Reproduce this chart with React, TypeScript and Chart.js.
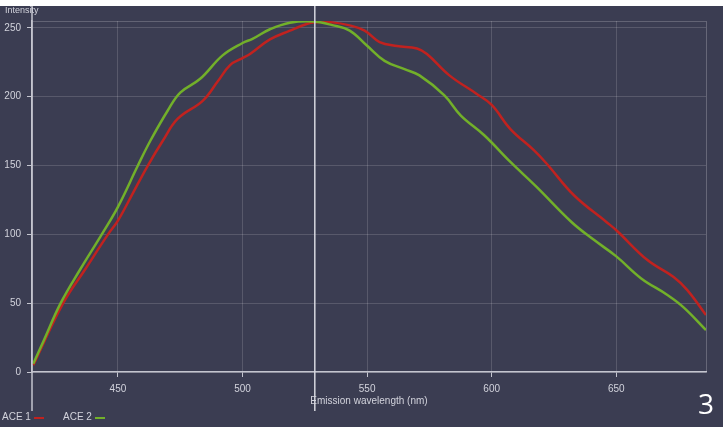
import React, { useEffect, useRef } from "react";
import { Chart, registerables } from "chart.js";

Chart.register(...registerables);

// ---- data ----
const ace1Wavelengths = [416, 428, 437, 446, 450, 456, 462, 468, 474, 484, 490, 495, 500, 503, 511, 519, 526, 529, 536, 543, 549, 555, 562, 570, 574, 583, 594, 600, 607.5, 617, 622, 633, 646, 650, 662.5, 673, 678.5, 686];
const ace1Intensity = [5, 50, 75, 100, 110, 130, 150, 168, 184, 197, 211, 223, 228, 231, 241.6, 248, 253, 254, 254, 251.8, 248, 239.7, 236.8, 235, 231, 215.5, 202, 194, 176.5, 161, 151.5, 128.4, 109, 103, 81.3, 69, 59.5, 41.4];
const ace2Wavelengths = [416, 420, 427, 435, 443.5, 450, 458, 463, 470, 475, 483, 492, 500, 504, 511, 519, 528.5, 536, 543, 550, 557, 565, 571, 581, 587.5, 597, 607.5, 618, 632, 641, 650, 660, 670.5, 677, 686];
const ace2Intensity = [6, 22, 50, 75, 100, 120, 150, 168, 190, 203, 213, 230, 239, 242, 249, 253.8, 254.7, 252, 248, 237, 226, 220, 215.5, 201, 186.5, 172, 152.6, 134.5, 109, 96, 84, 68, 56, 47, 30.5];

const xTicks = [450, 500, 550, 600, 650];
const yTicks = [0, 50, 100, 150, 200, 250];
const xMin = 415.5;
const xMax = 686;
const yMin = 0;
const yMax = 255;
const cursorWavelength = 529;

const seriesNames = ["ACE 1", "ACE 2"];
const seriesColors = ["#c1221f", "#72b02a"];

const BG = "#3b3d52";
const LABEL = "#d2d3dc";

export default function App() {
  const ref = useRef<HTMLCanvasElement | null>(null);

  useEffect(() => {
    const canvas = ref.current;
    if (!canvas) return;

    const bgPlugin = {
      id: "bg",
      beforeDraw(chart: any) {
        const { ctx, width, height } = chart;
        ctx.save();
        ctx.fillStyle = "#ffffff";
        ctx.fillRect(0, 0, width, height);
        ctx.fillStyle = BG;
        ctx.fillRect(0, 6, width, 421);
        ctx.restore();
      },
      afterDraw(chart: any) {
        const { ctx, chartArea } = chart;
        const xs = chart.scales.x;
        ctx.save();
        ctx.strokeStyle = "#c4c5cf";
        ctx.lineWidth = 1.5;
        ctx.beginPath();
        ctx.moveTo(chartArea.left, 6);
        ctx.lineTo(chartArea.left, 411);
        ctx.stroke();
        const cx = xs.getPixelForValue(cursorWavelength);
        ctx.strokeStyle = "#d6d7e0";
        ctx.beginPath();
        ctx.moveTo(cx, 6);
        ctx.lineTo(cx, 411);
        ctx.stroke();
        ctx.restore();
      },
    };

    const chart = new Chart(canvas, {
      type: "line",
      data: {
        datasets: [
          {
            label: seriesNames[0],
            data: ace1Wavelengths.map((x, i) => ({ x, y: ace1Intensity[i] })),
            borderColor: seriesColors[0],
            backgroundColor: seriesColors[0],
            borderWidth: 2.5,
            pointRadius: 0,
            tension: 0.4,
            order: 1,
          },
          {
            label: seriesNames[1],
            data: ace2Wavelengths.map((x, i) => ({ x, y: ace2Intensity[i] })),
            borderColor: seriesColors[1],
            backgroundColor: seriesColors[1],
            borderWidth: 2.5,
            pointRadius: 0,
            tension: 0.4,
            order: 0,
          },
        ],
      },
      options: {
        responsive: false,
        animation: false,
        devicePixelRatio: 1,
        layout: { padding: { left: 0, top: 21, right: 17, bottom: 0 } },
        plugins: {
          legend: { display: false },
          tooltip: { enabled: false },
        },
        scales: {
          x: {
            type: "linear",
            min: xMin,
            max: xMax,
            afterBuildTicks: (axis: any) => {
              axis.ticks = [...xTicks, xMax].map((v) => ({ value: v }));
            },
            afterFit: (scale: any) => {
              scale.height = 59;
            },
            ticks: {
              color: LABEL,
              font: { family: "Liberation Sans, Arial, sans-serif", size: 10 },
              padding: 6,
              maxRotation: 0,
              autoSkip: false,
              callback: (v: any) => (v === xMax ? "" : String(v)),
            },
            grid: {
              color: (c: any) => (c.tick && c.tick.value === xMax ? "rgba(255,255,255,0.22)" : "rgba(255,255,255,0.15)"),
              tickColor: (c: any) => (c.tick && c.tick.value === xMax ? "rgba(0,0,0,0)" : "#c4c5cf"),
              tickLength: 5,
              lineWidth: 1,
            },
            border: { display: true, color: "#c4c5cf", width: 1.5 },
            title: {
              display: true,
              text: "Emission wavelength (nm)",
              color: LABEL,
              font: { family: "Liberation Sans, Arial, sans-serif", size: 10 },
              padding: { top: 0, bottom: 24 },
            },
          },
          y: {
            type: "linear",
            min: yMin,
            max: yMax,
            afterBuildTicks: (axis: any) => {
              axis.ticks = [...yTicks, yMax].map((v) => ({ value: v }));
            },
            afterFit: (scale: any) => {
              scale.width = 32;
            },
            ticks: {
              color: LABEL,
              font: { family: "Liberation Sans, Arial, sans-serif", size: 10 },
              padding: 6,
              autoSkip: false,
              callback: (v: any) => (v === yMax ? "" : String(v)),
            },
            grid: {
              color: (c: any) => (c.tick && c.tick.value === yMax ? "rgba(255,255,255,0.2)" : "rgba(255,255,255,0.15)"),
              tickColor: (c: any) => (c.tick && c.tick.value === yMax ? "rgba(0,0,0,0)" : "#c4c5cf"),
              tickLength: 5,
              lineWidth: 1,
            },
            border: { display: true, color: "#c4c5cf", width: 1.5 },
          },
        },
      },
      plugins: [bgPlugin],
    });

    return () => chart.destroy();
  }, []);

  const textStyle: React.CSSProperties = {
    position: "absolute",
    color: LABEL,
    fontFamily: "Liberation Sans, Arial, sans-serif",
    fontSize: 10,
    lineHeight: "12px",
    whiteSpace: "nowrap",
  };

  return (
    <div style={{ position: "absolute", left: 0, top: 0, width: 723, height: 431 }}>
      <canvas ref={ref} width={723} height={431} style={{ display: "block", width: 723, height: 431 }} />
      <div style={{ ...textStyle, left: 5, top: 4, fontSize: 9 }}>Intensity</div>
      <div style={{ ...textStyle, left: 2, top: 411 }}>{seriesNames[0]}</div>
      <div style={{ position: "absolute", left: 34, top: 417, width: 10, height: 2, background: seriesColors[0] }} />
      <div style={{ ...textStyle, left: 63, top: 411 }}>{seriesNames[1]}</div>
      <div style={{ position: "absolute", left: 95, top: 417, width: 10, height: 2, background: seriesColors[1] }} />
      <div
        style={{
          position: "absolute",
          left: 698,
          top: 386,
          color: "#ffffff",
          fontFamily: "Open Sans, Noto Sans, sans-serif",
          fontSize: 28,
          lineHeight: "34px",
        }}
      >
        3
      </div>
    </div>
  );
}
